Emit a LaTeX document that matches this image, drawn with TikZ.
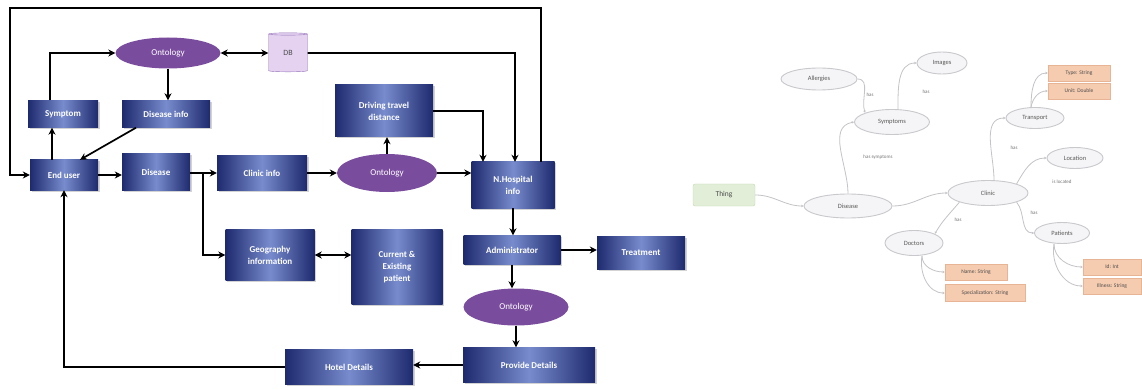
\documentclass[tikz,border=0pt]{standalone}
\usepackage{fontspec}
\setsansfont{Carlito}
\usetikzlibrary{arrows.meta,shapes.geometric,shadows,calc}
\definecolor{boxdark}{RGB}{30,42,110}
\definecolor{boxlight}{RGB}{120,140,205}
\definecolor{ontpurple}{RGB}{122,76,158}
\definecolor{dbfill}{RGB}{228,210,240}
\definecolor{dbdraw}{RGB}{150,115,185}
\definecolor{ellfill}{RGB}{245,245,247}
\definecolor{elldraw}{RGB}{200,200,205}
\definecolor{orfill}{RGB}{246,204,176}
\definecolor{ordraw}{RGB}{232,180,150}
\definecolor{thfill}{RGB}{226,238,216}
\definecolor{thdraw}{RGB}{196,218,180}
\definecolor{lnk}{RGB}{195,195,200}
\tikzset{
  bbox/.style={rectangle, inner sep=1pt, align=center, text=white,
    left color=boxdark, right color=boxdark, middle color=boxlight,
    font=\sffamily\bfseries\fontsize{9}{12}\selectfont,
    drop shadow={opacity=0.35, shadow xshift=1.5pt, shadow yshift=-1.5pt}},
  ont/.style={ellipse, inner sep=0pt, fill=ontpurple, text=white,
    font=\sffamily\fontsize{9}{11}\selectfont},
  dbst/.style={cylinder, shape border rotate=90, aspect=0.25, draw=dbdraw,
    fill=dbfill, inner sep=0pt, font=\sffamily\fontsize{8}{10}\selectfont, text=black!70},
  arr/.style={line width=1.7pt, -{Stealth[length=7pt,width=7pt]}},
  darr/.style={line width=1.7pt, {Stealth[length=7pt,width=7pt]}-{Stealth[length=7pt,width=7pt]}},
  oell/.style={ellipse, draw=elldraw, fill=ellfill, line width=0.9pt, inner sep=0pt,
    font=\sffamily\fontsize{6.5}{7}\selectfont, text=black!65},
  obox/.style={rectangle, draw=ordraw, fill=orfill, inner sep=0pt,
    font=\sffamily\fontsize{5.5}{7}\selectfont, text=black!70},
  tbox/.style={rectangle, rounded corners=2pt, draw=thdraw, fill=thfill, inner sep=0pt,
    font=\sffamily\fontsize{7.5}{8}\selectfont, text=black!70},
  lk/.style={draw=lnk, line width=0.8pt, -{Stealth[length=2.5pt,width=2.5pt]}},
  lbl/.style={font=\sffamily\fontsize{5}{6}\selectfont, text=black!55}
}
\begin{document}
\begin{tikzpicture}[x=1pt,y=-1pt]
\useasboundingbox (0,0) rectangle (1142,390);
% ---------- left diagram ----------
\node[ont, minimum width=105, minimum height=31] (ont1) at (168,53) {Ontology};
\node[dbst, minimum width=39, minimum height=39] (db) at (288,53) {DB};
\node[bbox, minimum width=70, minimum height=27] (sym) at (63,114) {Symptom};
\node[bbox, minimum width=88, minimum height=27] (disinfo) at (166,114) {Disease info};
\node[bbox, minimum width=68, minimum height=30] (eu) at (64,175) {End user};
\node[bbox, minimum width=68, minimum height=36] (dis) at (156,172) {Disease};
\node[bbox, minimum width=90, minimum height=35] (clinic) at (262,173) {Clinic info};
\node[bbox, minimum width=89, minimum height=51] (geo) at (270,255) {Geography\\information};
\node[bbox, minimum width=91, minimum height=75] (cur) at (397,267) {Current \&\\Existing\\patient};
\node[ont, minimum width=100, minimum height=38] (ont2) at (387,173) {Ontology};
\node[bbox, minimum width=98, minimum height=52] (dtd) at (384,111) {Driving travel\\distance};
\node[bbox, minimum width=83, minimum height=46] (nh) at (513,185) {N.Hospital\\info};
\node[bbox, minimum width=97, minimum height=29] (adm) at (512,250) {Administrator};
\node[bbox, minimum width=88, minimum height=33] (treat) at (641,253) {Treatment};
\node[ont, minimum width=105, minimum height=37] (ont3) at (516,307) {Ontology};
\node[bbox, minimum width=132, minimum height=35] (prov) at (529,365) {Provide Details};
\node[bbox, minimum width=128, minimum height=35] (hotel) at (349,367) {Hotel Details};

\coordinate (c1) at (541,8);
\coordinate (c2) at (10,8);
\coordinate (c3) at (515,53);
\coordinate (br) at (203,173);

\draw[arr] (nh.north -| c1) -- (c1) -- (c2) |- (eu.west);
\draw[darr] (ont1.east) -- (db.west);
\draw[arr] (db.east) -- (c3) -- (c3 |- nh.north);
\draw[arr] (ont1.south) -- (ont1.south |- disinfo.north);
\draw[arr] ([xshift=-13pt]sym.north) |- (ont1.west);
\draw[arr] ([xshift=-12pt]eu.north) -- ([xshift=-12pt]eu.north |- sym.south);
\draw[arr] ([xshift=-30pt]disinfo.south) -- ([xshift=16pt]eu.north);
\draw[arr] (eu.east) -- (eu.east -| dis.west);
\draw[arr] (dis.east |- br) -- (br -| clinic.west);
\draw[arr] (br) |- (geo.west);
\draw[darr] (geo.east) -- (geo.east -| cur.west);
\draw[arr] (clinic.east) -- (clinic.east -| ont2.west);
\draw[arr] (ont2.north) -- (ont2.north |- dtd.south);
\draw[arr] (dtd.east) -| ([xshift=-30pt]nh.north);
\draw[arr] (ont2.east) -- (ont2.east -| nh.west);
\draw[arr] (nh.south) -- (nh.south |- adm.north);
\draw[arr] (adm.east) -- (adm.east -| treat.west);
\draw[arr] (adm.south) -- (adm.south |- ont3.north);
\draw[arr] (ont3.south) -- (ont3.south |- prov.north);
\draw[arr] (prov.west) -- (prov.west -| hotel.east);
\draw[arr] (hotel.west) -| (eu.south);

% ---------- right diagram ----------
\node[tbox, minimum width=62, minimum height=22] (thing) at (724,195) {Thing};
\node[oell, minimum width=88, minimum height=24] (disease) at (848,206) {Disease};
\node[oell, minimum width=75, minimum height=25] (symp) at (892,122) {Symptoms};
\node[oell, minimum width=76, minimum height=22] (allerg) at (819,79) {Allergies};
\node[oell, minimum width=50, minimum height=22] (images) at (942,63) {Images};
\node[oell, minimum width=80, minimum height=25] (clin) at (988,193) {Clinic};
\node[oell, minimum width=58, minimum height=21] (trans) at (1035,118) {Transport};
\node[obox, minimum width=62, minimum height=16] (o1) at (1079,73) {Type: String};
\node[obox, minimum width=62, minimum height=16] (o2) at (1079,91) {Unit: Double};
\node[oell, minimum width=56, minimum height=21] (loc) at (1075,158) {Location};
\node[oell, minimum width=55, minimum height=21] (pat) at (1062,233) {Patients};
\node[obox, minimum width=58, minimum height=16] (o3) at (1112,267) {Id: Int};
\node[obox, minimum width=58, minimum height=16] (o4) at (1112,286) {Illness: String};
\node[oell, minimum width=58, minimum height=25] (doc) at (914,243) {Doctors};
\node[obox, minimum width=62, minimum height=16] (o5) at (976,272) {Name: String};
\node[obox, minimum width=80, minimum height=17] (o6) at (985,293) {Specialization: String};

\draw[lk] (thing.east) to[out=0,in=180] (disease.west);
\draw[lk] (disease.north) to[out=90,in=190] (symp.west);
\draw[lk] (allerg.east) to[out=0,in=110] (symp.north west);
\draw[lk] ([xshift=6pt]symp.north) to[out=90,in=180] (images.west);
\draw[lk] (disease.east) to[out=0,in=180] (clin.west);
\draw[lk] ([xshift=6pt]clin.north) to[out=90,in=180] (trans.west);
\draw[lk] ([xshift=-4pt]trans.north) to[out=90,in=180] (o1.west);
\draw[lk] ([xshift=-4pt]trans.north) to[out=80,in=180] (o2.west);
\draw[lk] (clin.north east) to[out=60,in=180] (loc.west);
\draw[lk] (clin.south east) to[out=-50,in=180] (pat.west);
\draw[lk] (clin.south west) to[out=-130,in=60] (doc.north east);
\draw[lk] ([xshift=8pt]doc.south) to[out=-90,in=180] (o5.west);
\draw[lk] ([xshift=8pt]doc.south) to[out=-100,in=180] (o6.west);
\draw[lk] ([xshift=-8pt]pat.south) to[out=-90,in=180] (o3.west);
\draw[lk] ([xshift=-8pt]pat.south) to[out=-100,in=180] (o4.west);

\node[lbl] (l1) at (870,95) {has};
\node[lbl] (l2) at (926,92) {has};
\node[lbl] (l3) at (878,157) {has symptoms};
\node[lbl] (l4) at (1014,148) {has};
\node[lbl] (l5) at (1062,182) {is located};
\node[lbl] (l6) at (1034,213) {has};
\node[lbl] (l7) at (958,220) {has};
\end{tikzpicture}
\end{document}
